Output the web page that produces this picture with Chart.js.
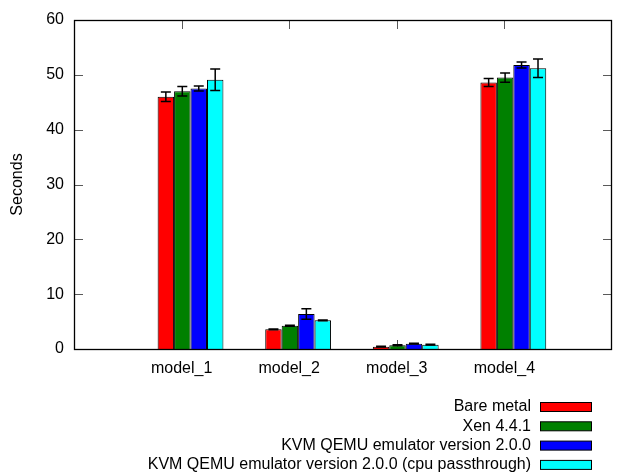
<!DOCTYPE html>
<html><head><meta charset="utf-8">
<script src="https://cdn.jsdelivr.net/npm/chart.js@4/dist/chart.umd.min.js"></script>
<style>html,body{margin:0;padding:0;background:#fff}#wrap{width:622px;height:473px}</style>
</head><body><div id="wrap"><canvas id="c" width="622" height="473"></canvas></div>
<script>
const categories = ['model_1', 'model_2', 'model_3', 'model_4'];
const seriesNames = ['Bare metal', 'Xen 4.4.1', 'KVM QEMU emulator version 2.0.0', 'KVM QEMU emulator version 2.0.0 (cpu passthrough)'];
const seriesColors = ['#ff0000', '#008000', '#0000ff', '#00ffff'];
const bareMetal = [46.0, 3.59, 0.43, 48.6];
const bareMetalErr = [0.85, 0.08, 0.06, 0.75];
const xen = [47.0, 4.25, 0.67, 49.5];
const xenErr = [0.85, 0.08, 0.1, 0.85];
const kvm = [47.5, 6.38, 0.97, 51.8];
const kvmErr = [0.45, 0.97, 0.08, 0.55];
const kvmPass = [49.1, 5.23, 0.79, 51.2];
const kvmPassErr = [1.95, 0.08, 0.06, 1.7];
const yTicks = [0, 10, 20, 30, 40, 50, 60];

const seriesValues = [bareMetal, xen, kvm, kvmPass];
const seriesErrors = [bareMetalErr, xenErr, kvmErr, kvmPassErr];
const FONT = 'Liberation Sans, Arial, sans-serif';
const FSIZE = 16;
const GROUP_SHIFT = 0.083;

const datasets = seriesValues.map((vals, i) => ({
  label: seriesNames[i],
  data: vals.map((v, j) => ({ x: j, y: v })),
  errors: seriesErrors[i],
  backgroundColor: seriesColors[i],
  borderColor: '#000',
  borderWidth: 1,
  xAxisID: 'xb',
  yAxisID: 'y',
  categoryPercentage: 0.667,
  barPercentage: 1.0
}));

const boxPlugin = {
  id: 'gnuplotBox',
  beforeDatasetsDraw(chart) {
    const ctx = chart.ctx, a = chart.chartArea;
    const ys = chart.scales.y, xs = chart.scales.x;
    ctx.save();
    ctx.strokeStyle = '#5a5a5a';
    ctx.lineWidth = 1;
    ctx.beginPath();
    yTicks.forEach(t => {
      const py = Math.round(ys.getPixelForValue(t)) + 0.5;
      ctx.moveTo(a.left, py); ctx.lineTo(a.left + 9, py);
      ctx.moveTo(a.right, py); ctx.lineTo(a.right - 9, py);
    });
    categories.forEach((c, j) => {
      const px = Math.round(xs.getPixelForValue(j)) + 0.5;
      ctx.moveTo(px, a.top); ctx.lineTo(px, a.top + 9);
      ctx.moveTo(px, a.bottom); ctx.lineTo(px, a.bottom - 9);
    });
    ctx.stroke();
    ctx.restore();
  },
  afterDatasetsDraw(chart) {
    const ctx = chart.ctx, a = chart.chartArea, ys = chart.scales.y;
    ctx.save();
    ctx.strokeStyle = '#000';
    ctx.lineWidth = 1.5;
    chart.data.datasets.forEach((ds, i) => {
      const meta = chart.getDatasetMeta(i);
      meta.data.forEach((bar, j) => {
        const v = ds.data[j].y, e = ds.errors[j];
        const x = bar.x;
        const y1 = ys.getPixelForValue(v + e), y2 = ys.getPixelForValue(v - e);
        ctx.beginPath();
        ctx.moveTo(x, y1); ctx.lineTo(x, y2);
        ctx.moveTo(x - 5, y1); ctx.lineTo(x + 5, y1);
        ctx.moveTo(x - 5, y2); ctx.lineTo(x + 5, y2);
        ctx.stroke();
      });
    });
    ctx.lineWidth = 1.3;
    ctx.strokeRect(a.left + 0.5, a.top + 0.5, a.right - a.left - 1, a.bottom - a.top);
    ctx.restore();
  },
  afterDraw(chart) {
    const ctx = chart.ctx, a = chart.chartArea;
    ctx.save();
    ctx.font = FSIZE + 'px ' + FONT;
    ctx.textAlign = 'right';
    ctx.textBaseline = 'middle';
    ctx.fillStyle = '#000';
    chart.data.datasets.forEach((ds, i) => {
      const cy = a.bottom + 58 + i * 19.3;
      ctx.fillText(ds.label, 531, cy);
      ctx.fillStyle = ds.backgroundColor;
      ctx.fillRect(540, cy - 4.5, 51, 9);
      ctx.strokeStyle = '#000';
      ctx.lineWidth = 1;
      ctx.strokeRect(540.5, cy - 4.5, 51, 9);
      ctx.fillStyle = '#000';
    });
    ctx.restore();
  }
};

new Chart(document.getElementById('c'), {
  type: 'bar',
  data: { datasets },
  plugins: [boxPlugin],
  options: {
    responsive: false,
    animation: false,
    devicePixelRatio: 1,
    layout: { padding: { top: 20, right: 1, left: 0, bottom: 94 } },
    plugins: { legend: { display: false }, tooltip: { enabled: false } },
    scales: {
      x: {
        type: 'linear', position: 'bottom', min: -1, max: 4, offset: false,
        grid: { display: false, drawTicks: false, offset: false }, border: { display: false },
        ticks: {
          stepSize: 1, padding: 10, color: '#000', maxRotation: 0, autoSkip: false,
          font: { family: FONT, size: FSIZE },
          callback: v => (v >= 0 && v < categories.length && Number.isInteger(v)) ? categories[v] : ''
        },
        afterFit: s => { s.height = 30; }
      },
      xb: {
        type: 'linear', display: false, offset: false,
        grid: { offset: false },
        min: -1 - GROUP_SHIFT, max: 4 - GROUP_SHIFT
      },
      y: {
        type: 'linear', position: 'left', min: 0, max: 60,
        grid: { display: false, drawTicks: false }, border: { display: false },
        ticks: { stepSize: 10, padding: 10, color: '#000', font: { family: FONT, size: FSIZE } },
        title: { display: true, text: 'Seconds', color: '#000', font: { family: FONT, size: FSIZE }, padding: { top: 8, bottom: 0 } },
        afterFit: s => { s.width = 74; }
      }
    }
  }
});
</script></body></html>
